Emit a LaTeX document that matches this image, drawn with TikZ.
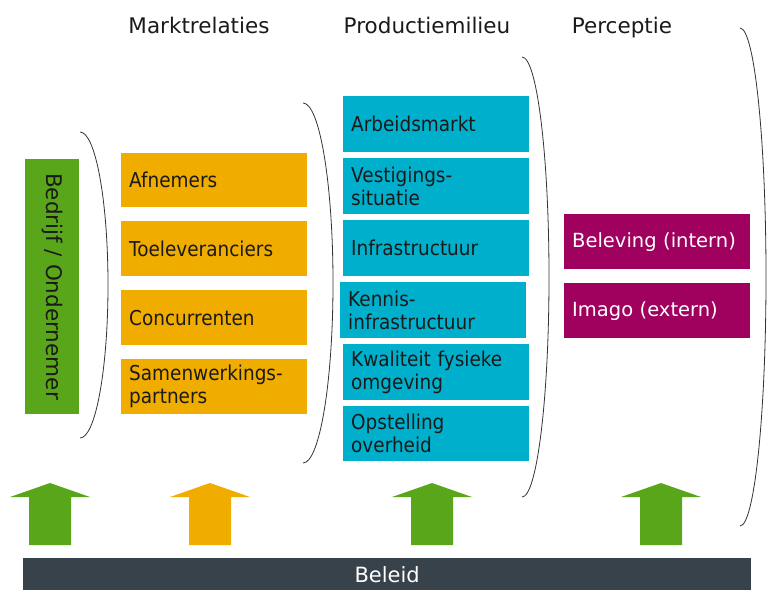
\documentclass[tikz,border=0pt]{standalone}
\usepackage{fontspec}
\setmainfont{DejaVu Sans}
\newfontfamily\smalfont[FakeStretch=0.9]{DejaVu Sans}
\definecolor{groen}{HTML}{5AA61A}
\definecolor{oranje}{HTML}{F0AD00}
\definecolor{cyaan}{HTML}{00AFCB}
\definecolor{paars}{HTML}{A0005E}
\definecolor{donker}{HTML}{37424A}
\definecolor{tekst}{HTML}{1A1A1A}
\tikzset{
  blok/.style={anchor=north west, inner xsep=8pt, inner ysep=0pt, minimum height=55pt,
    text width=170pt, align=left, text=tekst, font=\smalfont\fontsize{20.5}{23}\selectfont},
  kop/.style={anchor=base, font=\fontsize{21.5}{24}\selectfont, text=tekst},
  haak/.style={draw=black!80, line width=0.8pt}
}
\newcommand{\blokpijl}[2]{%
  \fill[#2] (#1-40,497) -- (#1,483) -- (#1+40,497) -- (#1+21,497) -- (#1+21,545)
    -- (#1-21,545) -- (#1-21,497) -- cycle;}
\begin{document}
\begin{tikzpicture}[x=1pt, y=-1pt]
    \useasboundingbox (0,0) rectangle (768,590);

    % kopjes
    \node[kop] (markt) at (199,33) {Marktrelaties};
    \node[kop] (prod) at (427,33) {Productiemilieu};
    \node[kop] (perc) at (622,33) {Perceptie};

    % bedrijf
    \node[fill=groen, rotate=-90, minimum width=255pt, minimum height=54pt, inner sep=0pt,
      text=tekst, font=\fontsize{21.5}{24}\selectfont] (bedrijf) at (52,286.5) {Bedrijf / Ondernemer};
    \draw[haak] (80,132) arc[start angle=-90, end angle=90, x radius=28, y radius=153];

    % marktrelaties
    \node[blok, fill=oranje, minimum height=54pt] (afnemers) at (121,153) {Afnemers};
    \node[blok, fill=oranje] (toelev) at (121,221) {Toeleveranciers};
    \node[blok, fill=oranje] (concur) at (121,290) {Concurrenten};
    \node[blok, fill=oranje] (samenw) at (121,359) {Samenwerkings-\\partners};
    \draw[haak] (303,103) arc[start angle=-90, end angle=90, x radius=30, y radius=180];

    % productiemilieu
    \node[blok, fill=cyaan, minimum height=56pt] (arbeid) at (343,96) {Arbeidsmarkt};
    \node[blok, fill=cyaan, minimum height=56pt] (vestig) at (343,158) {Vestigings-\\situatie};
    \node[blok, fill=cyaan, minimum height=56pt] (infra) at (343,220) {Infrastructuur};
    \node[blok, fill=cyaan, minimum height=56pt] (kennis) at (340,282) {Kennis-\\infrastructuur};
    \node[blok, fill=cyaan, minimum height=56pt] (kwalit) at (343,344) {Kwaliteit fysieke\\omgeving};
    \node[blok, fill=cyaan, minimum height=55pt] (opstel) at (343,406) {Opstelling\\overheid};
    \draw[haak] (522,57) arc[start angle=-90, end angle=90, x radius=27, y radius=220];

    % perceptie
    \node[blok, fill=paars, text=white, font=\fontsize{19.5}{23}\selectfont] (beleving) at (564,214) {Beleving (intern)};
    \node[blok, fill=paars, text=white, font=\fontsize{19.5}{23}\selectfont] (imago) at (564,283) {Imago (extern)};
    \draw[haak] (740,28) arc[start angle=-90, end angle=90, x radius=26, y radius=249];

    % pijlen
    \blokpijl{50}{groen}
    \blokpijl{210}{oranje}
    \blokpijl{432}{groen}
    \blokpijl{661}{groen}

    % beleid
    \node[fill=donker, minimum width=728pt, minimum height=32pt, inner sep=0pt, text=white,
      font=\fontsize{21}{24}\selectfont, anchor=north west] (beleid) at (23,558) {Beleid};
\end{tikzpicture}
\end{document}
